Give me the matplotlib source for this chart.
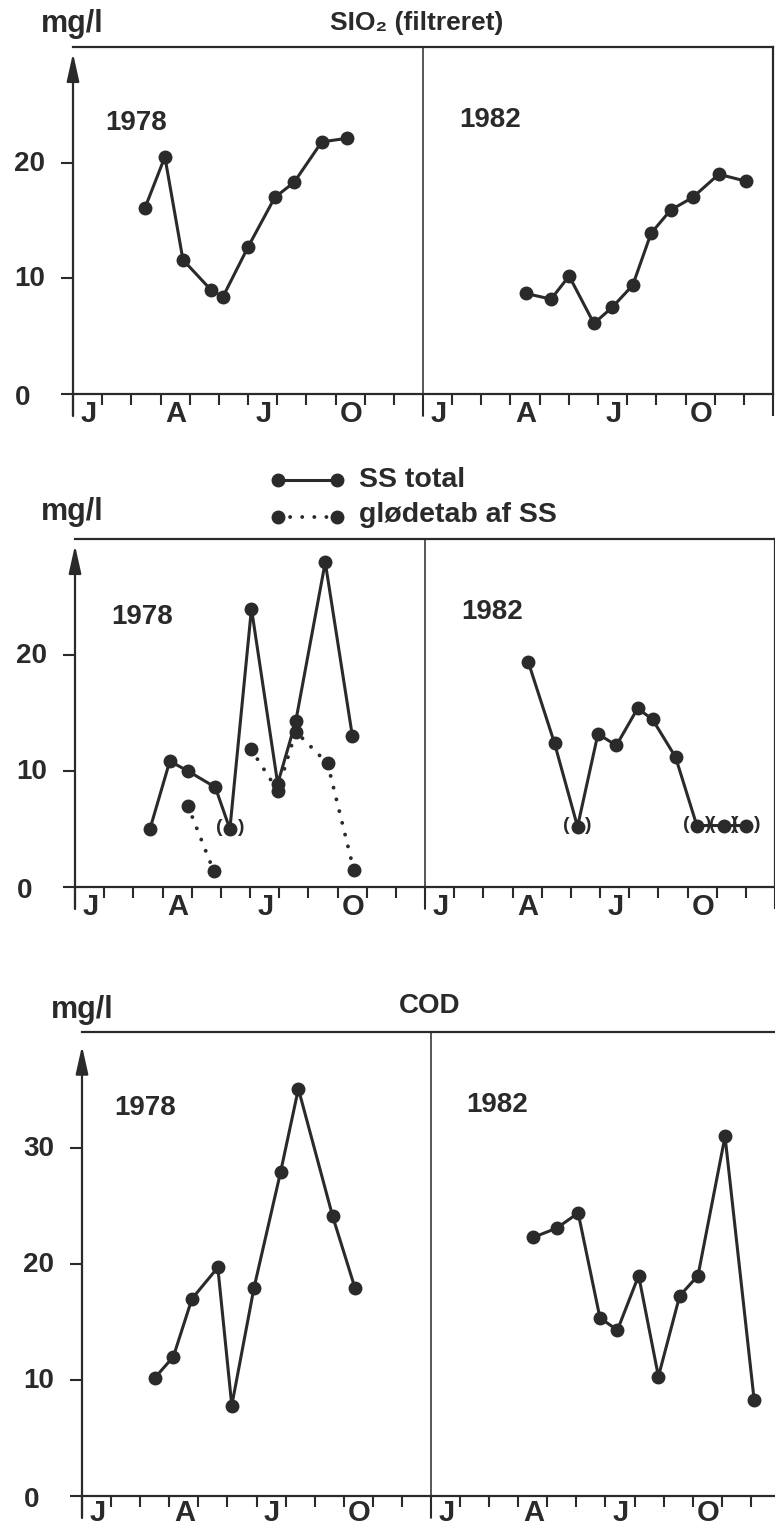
import numpy as np
import matplotlib
matplotlib.use("Agg")
import matplotlib.pyplot as plt
from matplotlib.transforms import offset_copy

plt.rcParams['font.family'] = ['Liberation Sans', 'DejaVu Sans']
plt.rcParams['font.weight'] = 'bold'

# ---------------- data (months from 1 Jan, per year) ----------------
month_labels = ["J", "A", "J", "O"]
years = ["1978", "1982"]

sio2_1978_m = [2.47, 3.15, 3.77, 4.73, 5.14, 6.00, 6.92, 7.58, 8.53, 9.38]
sio2_1978_v = [16.1, 20.5, 11.6, 9.0, 8.4, 12.7, 17.0, 18.3, 21.8, 22.1]
sio2_1982_m = [3.52, 4.39, 5.01, 5.86, 6.49, 7.19, 7.82, 8.49, 9.25, 10.14, 11.07]
sio2_1982_v = [8.7, 8.2, 10.2, 6.1, 7.5, 9.4, 13.9, 15.9, 17.0, 19.0, 18.4]

ss_1978_m = [2.57, 3.25, 3.87, 4.81, 5.31, 6.05, 6.95, 7.57, 8.58, 9.51]
ss_1978_v = [5.0, 10.85, 10.0, 8.6, 5.0, 24.0, 8.9, 14.3, 28.0, 13.0]
ss_1978_bracket = [4]
gl_1978_m = [3.87, 4.76, np.nan, 6.03, 6.95, 7.57, 8.66, 9.56]
gl_1978_v = [7.0, 1.35, np.nan, 11.9, 8.3, 13.4, 10.65, 1.45]
ss_1982_m = [3.54, 4.44, 5.23, 5.93, 6.56, 7.29, 7.80, 8.59, 9.32, 10.24, 11.02]
ss_1982_v = [19.4, 12.4, 5.2, 13.2, 12.2, 15.4, 14.45, 11.2, 5.3, 5.3, 5.3]
ss_1982_bracket = [2, 8, 9, 10]

cod_1978_m = [2.51, 3.14, 3.78, 4.67, 5.15, 5.91, 6.83, 7.44, 8.62, 9.39]
cod_1978_v = [10.2, 12.0, 17.0, 19.7, 7.8, 17.9, 27.95, 35.1, 24.1, 17.9]
cod_1982_m = [3.52, 4.33, 5.06, 5.81, 6.41, 7.14, 7.82, 8.55, 9.18, 10.11, 11.11]
cod_1982_v = [22.3, 23.1, 24.4, 15.35, 14.3, 19.0, 10.3, 17.25, 19.0, 31.0, 8.3]

# ---------------- style ----------------
W, H = 775, 1526
C = '#2a2a2a'
FS_TICK = 20
FS_MONTH = 21
FS_YEAR = 20
FS_TITLE = 19
FS_UNIT = 22
FS_LEG = 20.5

fig = plt.figure(figsize=(W / 100, H / 100), dpi=100)


def fpos(x, y):
    return x / W, 1 - y / H


def make_axes(left, zero_y, top_y, width, ymax, yticks, arrow_tip, month_dy=-20):
    hpx = zero_y - top_y
    ax = fig.add_axes([left / W, 1 - zero_y / H, width / W, hpx / H])
    ax.set_xlim(0, 24)
    ax.set_ylim(0, ymax)
    ax.patch.set_alpha(0)
    for s in ['top', 'right', 'bottom']:
        ax.spines[s].set_linewidth(1.6)
        ax.spines[s].set_color(C)
    ax.spines['left'].set_visible(False)
    # month ticks
    ax.set_xticks([m for m in range(1, 24) if m != 12])
    ax.set_xticks([0, 12, 24], minor=True)
    ax.tick_params(axis='x', which='major', length=8, width=1.5, color=C,
                   direction='out', labelbottom=False)
    ax.tick_params(axis='x', which='minor', length=16, width=1.5, color=C,
                   direction='out', labelbottom=False)
    ax.set_yticks(yticks)
    ax.tick_params(axis='y', length=9, width=1.5, color=C, direction='out',
                   labelleft=False)
    # y tick labels
    for t in yticks:
        dx = -43 if t == 0 else -28
        dy = -4 if t == 0 else -1
        tr = offset_copy(ax.get_yaxis_transform(), fig=fig, x=dx, y=dy, units='dots')
        ax.text(0, t, str(t), transform=tr, ha='right', va='center',
                fontsize=FS_TICK, fontweight='bold', color=C)
    # month labels
    trm = offset_copy(ax.get_xaxis_transform(), fig=fig, x=1, y=month_dy, units='dots')
    for half in range(2):
        for i, lab in enumerate(month_labels):
            ax.text(half * 12 + 0.5 + 3 * i, 0, lab, transform=trm, ha='center',
                    va='center', fontsize=FS_MONTH, fontweight='bold', color=C)
    # divider
    ax.axvline(12, ymin=-16 / hpx * 1.39, ymax=1, color=C, lw=1.1, clip_on=False)
    # arrow y-axis
    ax.annotate('', xy=(0, arrow_tip), xytext=(0, -22 / hpx),
                xycoords='axes fraction', textcoords='axes fraction',
                arrowprops=dict(arrowstyle='-|>,head_length=1.7,head_width=0.38',
                                lw=1.6, color=C, shrinkA=0, shrinkB=0),
                annotation_clip=False)
    return ax


def solid(ax, m, v, off=0):
    ax.plot(np.asarray(m) + off, v, '-o', color=C, lw=2.2, ms=9, mec=C, mfc=C,
            clip_on=False, zorder=3)


def dotted(ax, m, v, off=0):
    ax.plot(np.asarray(m) + off, v, color=C, lw=2.8, linestyle=(0, (0.01, 3.1)),
            dash_capstyle='round', marker='o', ms=9, mec=C, mfc=C,
            clip_on=False, zorder=3)


def brackets(ax, m, v, idx, off=0):
    for i in idx:
        for dx, ch in ((-11, '('), (11, ')')):
            tr = offset_copy(ax.transData, fig=fig, x=dx, y=1, units='dots')
            ax.text(m[i] + off, v[i], ch, transform=tr, ha='center', va='center',
                    fontsize=14, fontweight='bold', color=C, zorder=4)


# ---------------- panel 1: SiO2 ----------------
ax1 = make_axes(73, 394, 47, 700, 30, [0, 10, 20], 0.982)
solid(ax1, sio2_1978_m, sio2_1978_v)
solid(ax1, sio2_1982_m, sio2_1982_v, 12)
fig.text(*fpos(72, 24), "mg/l", ha='center', va='center', fontsize=FS_UNIT, color=C)
fig.text(*fpos(417, 23), "SIO\u2082 (filtreret)", ha='center', va='center',
         fontsize=FS_TITLE, color=C)
fig.text(*fpos(136, 123), years[0], ha='center', va='center', fontsize=FS_YEAR, color=C)
fig.text(*fpos(490, 120), years[1], ha='center', va='center', fontsize=FS_YEAR, color=C)

# ---------------- panel 2: SS ----------------
ax2 = make_axes(75, 887, 539, 700, 30, [0, 10, 20], 0.982)
solid(ax2, ss_1978_m, ss_1978_v)
dotted(ax2, gl_1978_m, gl_1978_v)
solid(ax2, ss_1982_m, ss_1982_v, 12)
brackets(ax2, ss_1978_m, ss_1978_v, ss_1978_bracket)
brackets(ax2, ss_1982_m, ss_1982_v, ss_1982_bracket, 12)
fig.text(*fpos(72, 512), "mg/l", ha='center', va='center', fontsize=FS_UNIT, color=C)
fig.text(*fpos(142, 617), years[0], ha='center', va='center', fontsize=FS_YEAR, color=C)
fig.text(*fpos(492, 612), years[1], ha='center', va='center', fontsize=FS_YEAR, color=C)
# legend
lx0, lx1 = 278 / W, 337 / W
fig.add_artist(plt.Line2D([lx0, lx1], [1 - 480 / H] * 2, color=C, lw=2.2,
                          marker='o', ms=9, transform=fig.transFigure))
fig.add_artist(plt.Line2D([lx0, lx1], [1 - 517 / H] * 2, color=C, lw=2.8,
                          linestyle=(0, (0.01, 3.1)), dash_capstyle='round',
                          marker='o', ms=9, transform=fig.transFigure))
fig.text(*fpos(359, 480), "SS total", ha='left', va='center', fontsize=FS_LEG, color=C)
fig.text(*fpos(359, 515), "glødetab af SS", ha='left', va='center',
         fontsize=FS_LEG, color=C)

# ---------------- panel 3: COD ----------------
ax3 = make_axes(82, 1496, 1032, 698, 40, [0, 10, 20, 30], 0.970, month_dy=-17)
solid(ax3, cod_1978_m, cod_1978_v)
solid(ax3, cod_1982_m, cod_1982_v, 12)
fig.text(*fpos(82, 1010), "mg/l", ha='center', va='center', fontsize=FS_UNIT, color=C)
fig.text(*fpos(430, 1006), "COD", ha='center', va='center', fontsize=20, color=C)
fig.text(*fpos(145, 1108), years[0], ha='center', va='center', fontsize=FS_YEAR, color=C)
fig.text(*fpos(497, 1105), years[1], ha='center', va='center', fontsize=FS_YEAR, color=C)

fig.savefig("out.png", dpi=100)
